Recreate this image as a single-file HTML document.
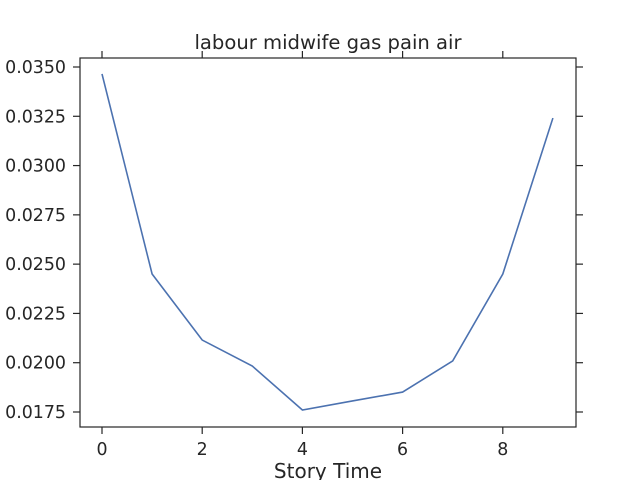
<!DOCTYPE html>
<html><head><meta charset="utf-8"><style>
body{margin:0;background:#fff;}
svg text{font-family:"DejaVu Sans","Liberation Sans",sans-serif;fill:#262626;}
</style></head><body>
<svg id="chart" width="640" height="480">
<text x="328" y="49" font-size="19.6" text-anchor="middle">labour midwife gas pain air</text>
<text x="328" y="478" font-size="20" text-anchor="middle">Story Time</text>
<g id="ticks"></g>
<path id="line" fill="none" stroke="#4c72b0" stroke-width="1.6"/>
<rect x="80" y="58" width="496" height="369" fill="none" stroke="#262626" stroke-width="1.2"/>
</svg>
<script>
const xValues=[0,1,2,3,4,5,6,7,8,9];
const yValues=[0.03465,0.0245,0.02115,0.01983,0.0176,0.01806,0.01851,0.02009,0.0245,0.03241];
const xTicks=[0,2,4,6,8];
const yTicks=[0.0175,0.0200,0.0225,0.0250,0.0275,0.0300,0.0325,0.0350];
function sx(v){return 102+v*50.1;}
function sy(v){return 67+(0.0350-v)*19714;}
const NS="http://www.w3.org/2000/svg";
const g=document.getElementById('ticks');
function el(t,a){const e=document.createElementNS(NS,t);for(const k in a)e.setAttribute(k,a[k]);g.appendChild(e);return e;}
xTicks.forEach(v=>{
 const x=sx(v);
 const t1=el('line',{x1:x,x2:x,y1:427,y2:434,stroke:'#262626','stroke-width':1.2});
 
 
 const t2=el('line',{x1:x,x2:x,y1:51,y2:58,stroke:'#262626','stroke-width':1.2});
 
 
 const tx=el('text',{x:x,y:455,'font-size':17.4,'text-anchor':'middle'});
 tx.textContent=v;
 
 
});
yTicks.forEach(v=>{
 const y=sy(v);
 const t1=el('line',{x1:73,x2:80,y1:y,y2:y,stroke:'#262626','stroke-width':1.2});
 
 
 const t2=el('line',{x1:576,x2:583,y1:y,y2:y,stroke:'#262626','stroke-width':1.2});
 
 
 const tx=el('text',{x:66,y:y+6,'font-size':17.4,'text-anchor':'end'});
 tx.textContent=v.toFixed(4);
 
 
});
document.getElementById('line').setAttribute('d',xValues.map((v,i)=>(i?'L':'M')+sx(v)+','+sy(yValues[i])).join(' '));
</script>
</body></html>
